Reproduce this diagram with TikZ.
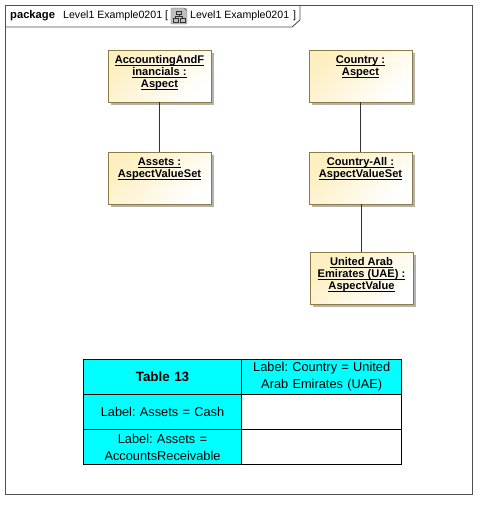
\documentclass[tikz,border=0pt]{standalone}
\usepackage{fontspec}
\setmainfont{Liberation Sans}
\usetikzlibrary{shadows}
\frenchspacing

\definecolor{boxline}{HTML}{8C7B45}
\definecolor{boxfill}{HTML}{FDEFC0}
\definecolor{frameline}{HTML}{505050}
\definecolor{cellfill}{HTML}{00FFFF}

\newcommand{\ul}[1]{\underline{\vphantom{A}\smash{#1}}}
\newcommand{\boxtext}[1]{\parbox[c][40pt][t]{101pt}{\centering\bfseries #1}}

\tikzset{
    uml/.style={draw=boxline, line width=0.9pt, inner sep=0pt, minimum width=103pt, minimum height=52pt,
        top color=boxfill, middle color=boxfill!65, bottom color=white, shading angle=45,
        drop shadow={shadow xshift=3pt, shadow yshift=-3pt, fill=black!30, opacity=1},
        font=\fontsize{11.1}{12}\selectfont},
    cell/.style={draw=black, line width=0.8pt, inner sep=0pt, minimum width=160pt, minimum height=35pt,
        text width=155pt, align=center, font=\fontsize{12.8}{17}\selectfont},
    head/.style={cell, fill=cellfill},
    left cell/.style={minimum width=158.4pt},
    title/.style={anchor=base west, inner sep=0pt, font=\fontsize{10.6}{13}\selectfont},
    link/.style={draw=black!80, line width=0.8pt}
}

\begin{document}
\begin{tikzpicture}[x=1pt,y=-1pt]
    \useasboundingbox (0,0) rectangle (487,509);

    % frame and tab
    \node[draw=frameline, line width=0.9pt, inner sep=0pt, minimum width=467pt, minimum height=489.5pt] (frame) at (238.8,249.8) {};
    \draw[frameline, line width=0.9pt] (5,27) -- (292,27) -- (300,20) -- (300,5);

    \node[title, font=\fontsize{11.2}{13}\selectfont\bfseries] (kind) at (10,18) {package};
    \node[title] (name) at (63,18) {Level1 Example0201 [};
    \node[title] (ref) at (190,18) {Level1 Example0201};
    \node[title] (close) at (293,18) {]};

    % diagram icon
    \fill[black!25] (171,8) rectangle (187,24);
    \draw[black!60] (171,24) -- (171,8) -- (184,8) -- (187,11) -- (187,24) -- cycle;
    \draw[black!80] (176.5,11) rectangle (181.5,14.5);
    \draw[black!80] (173,18.5) rectangle (178,22);
    \draw[black!80] (180,18.5) rectangle (185,22);
    \draw[black!80] (179,14.5) -- (179,16.5) (175.5,18.5) -- (175.5,16.5) -- (182.5,16.5) -- (182.5,18.5);

    % elements
    \node[uml] (acc) at (159.5,76) {\boxtext{\ul{AccountingAndF}\\\ul{inancials :}\\\ul{Aspect}}};
    \node[uml] (cty) at (360.5,76) {\boxtext{\ul{Country :}\\\ul{Aspect}}};
    \node[uml] (ast) at (159.5,178) {\boxtext{\ul{Assets :}\\\ul{AspectValueSet}}};
    \node[uml] (all) at (360.5,178) {\boxtext{\ul{Country-All :}\\\ul{AspectValueSet}}};
    \node[uml] (uae) at (361.5,278) {\boxtext{\ul{United Arab}\\\ul{Emirates (UAE) :}\\\ul{AspectValue}}};

    \draw[link] (acc) -- (ast);
    \draw[link] (cty) -- (all);
    \draw[link] (all.south -| uae) -- (uae);

    % table
    \node[head, left cell, font=\fontsize{13.4}{17}\selectfont\bfseries] (corner) at (162.5,377) {Table 13};
    \node[head] (col) at (321.7,377) {Label: Country = United\\Arab Emirates (UAE)};
    \node[head, left cell] (cash) at (162.5,412) {Label: Assets = Cash};
    \node[cell] (cashval) at (321.7,412) {};
    \node[head, left cell] (recv) at (162.5,447) {Label: Assets =\\AccountsReceivable};
    \node[cell] (recvval) at (321.7,447) {};
\end{tikzpicture}
\end{document}
